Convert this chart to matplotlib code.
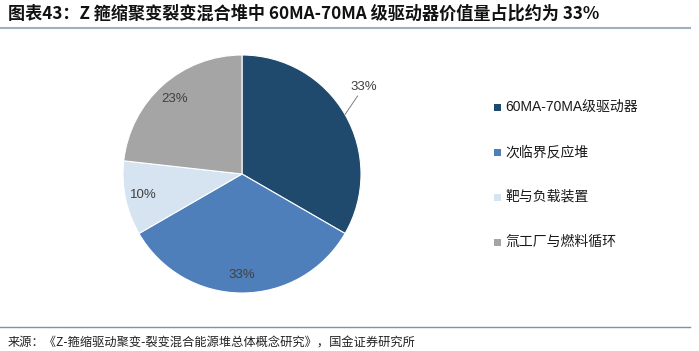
import numpy as np
import matplotlib
matplotlib.use('Agg')
import matplotlib.pyplot as plt
from matplotlib.patches import Rectangle
from matplotlib.lines import Line2D

plt.rcParams['font.family'] = ['Noto Sans CJK SC', 'DejaVu Sans']

# data
labels = ['60MA-70MA级驱动器', '次临界反应堆', '靶与负载装置', '氚工厂与燃料循环']
values = [33, 33, 10, 23]
colors = ['#1F4A6E', '#4F7FBA', '#D6E3F1', '#A5A5A5']
title = '图表43：Z 箍缩聚变裂变混合堆中 60MA-70MA 级驱动器价值量占比约为 33%'
source = '来源：《Z-箍缩驱动聚变-裂变混合能源堆总体概念研究》，国金证券研究所'

W, H = 699, 351
fig = plt.figure(figsize=(W / 100, H / 100), dpi=100)

# pie axes, center (242,174) px, radius 119 px
cx, cy, r = 242, 174, 119
ax = fig.add_axes([(cx - r) / W, (H - cy - r) / H, 2 * r / W, 2 * r / H])
wedges, _ = ax.pie(values, colors=colors, startangle=90, counterclock=False,
                   radius=1, wedgeprops=dict(linewidth=0.8, edgecolor='white'))
ax.set_xlim(-1, 1)
ax.set_ylim(-1, 1)
ax.set_aspect('equal')
ax.axis('off')

for i, (w, v) in enumerate(zip(wedges, values)):
    mid = np.deg2rad((w.theta1 + w.theta2) / 2)
    txt = f'{v}%'
    if i == 0:
        ex, ey = np.cos(mid), np.sin(mid)
        ax.annotate(txt, xy=(ex, ey), xytext=(0.91, 0.73),
                    fontsize=9.5, color='#404040', family=['Liberation Sans'],
                    ha='left', va='center',
                    arrowprops=dict(arrowstyle='-', color='#808080', lw=0.7,
                                    shrinkA=0, shrinkB=0))
    else:
        ax.text(0.85 * np.cos(mid), 0.85 * np.sin(mid), txt, fontsize=9.5,
                color='#404040', family=['Liberation Sans'],
                ha='center', va='center')

# legend
for i, (lab, col) in enumerate(zip(labels, colors)):
    yy = 107 + 45 * i
    fig.add_artist(Rectangle((494 / W, 1 - (yy + 3.5) / H), 7 / W, 7 / H,
                             transform=fig.transFigure, facecolor=col,
                             edgecolor='none'))
    fig.text(505 / W, 1 - yy / H, lab, fontsize=10, color='#1a1a1a',
             family=['Liberation Sans', 'Noto Sans CJK SC'],
             ha='left', va='center')

# title and rules
fig.text(8 / W, 1 - 14 / H, title, fontsize=12.3, fontweight='bold',
         color='#111111', ha='left', va='center')
fig.add_artist(Line2D([0, 690 / W], [1 - 27.5 / H] * 2, transform=fig.transFigure,
                      color='#9EB0C4', lw=1.5))
fig.add_artist(Line2D([0, 690 / W], [1 - 327 / H] * 2, transform=fig.transFigure,
                      color='#7F93A8', lw=1.0))
fig.text(8 / W, 1 - 343 / H, source, fontsize=8.8, color='#222222',
         ha='left', va='center')

fig.savefig('out.png', dpi=100)
